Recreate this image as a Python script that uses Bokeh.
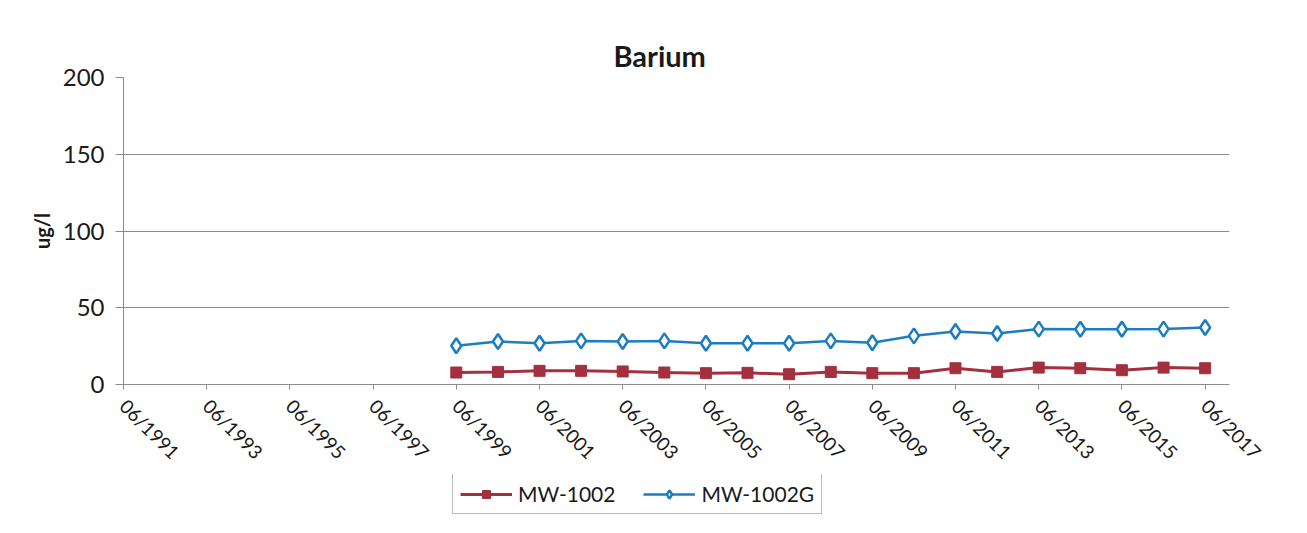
import math
from datetime import datetime
from bokeh.plotting import figure
from bokeh.layouts import column
from bokeh.models import (Range1d, FixedTicker, DatetimeTickFormatter, Legend, LegendItem)
from bokeh.embed import file_html
from bokeh.resources import INLINE

# ---- data ----
years = list(range(1999, 2018))
mw1002 = [7.8, 8.2, 8.9, 8.9, 8.5, 7.8, 7.4, 7.6, 6.7, 8.2, 7.4, 7.4, 10.6, 8.2, 11.0, 10.6, 9.3, 11.0, 10.6]
mw1002g = [25.2, 28.0, 26.9, 28.4, 28.0, 28.4, 26.9, 26.9, 26.9, 28.4, 27.2, 31.7, 34.5, 33.2, 36.1, 36.0, 36.0, 36.1, 37.1]
tick_years = list(range(1991, 2018, 2))
y_ticks = [0, 50, 100, 150, 200]
series_names = ["MW-1002", "MW-1002G"]

xs = [datetime(y, 6, 1) for y in years]
tick_ms = [datetime(y, 6, 1).timestamp() * 1000 for y in tick_years]

FONT = "Lato"
RED = "#A3303F"
BLUE = "#1C7DC0"
GRID = "#8c8c8c"
TXT = "#1a1a1a"

p = figure(frame_width=1106, frame_height=307, x_axis_type="datetime",
           output_backend="svg", toolbar_location=None,
           x_range=Range1d(datetime(1991, 6, 1), datetime(2018, 1, 1)),
           y_range=Range1d(0, 200))
p.min_border_left = 123
p.min_border_right = 61
p.min_border_top = 77
p.min_border_bottom = 0
p.outline_line_color = None
p.background_fill_color = "white"
p.border_fill_color = "white"

# title
p.title.text = "Barium"
p.title.align = "left"
p.title.offset = 490
p.title.text_font = FONT
p.title.text_font_style = "bold"
p.title.text_font_size = "29px"
p.title.text_color = TXT

# axes
p.xaxis.ticker = FixedTicker(ticks=tick_ms)
p.xaxis.formatter = DatetimeTickFormatter(days="%m/%Y", months="%m/%Y", years="%m/%Y")
p.xaxis.major_label_orientation = -math.pi / 4
p.xaxis.minor_tick_line_color = None
p.xaxis.major_tick_in = 0
p.xaxis.major_tick_out = 5
p.xaxis.axis_line_color = GRID
p.xaxis.major_tick_line_color = GRID
p.xaxis.major_label_text_font = FONT
p.xaxis.major_label_text_font_size = "19px"
p.xaxis.major_label_text_color = TXT
p.xaxis.major_label_standoff = 13

p.yaxis.ticker = FixedTicker(ticks=y_ticks)
p.yaxis.minor_tick_line_color = None
p.yaxis.major_tick_in = 0
p.yaxis.major_tick_out = 8
p.yaxis.axis_line_color = GRID
p.yaxis.major_tick_line_color = GRID
p.yaxis.major_label_text_font = FONT
p.yaxis.major_label_text_font_size = "24px"
p.yaxis.major_label_text_color = TXT
p.yaxis.major_label_standoff = 11
p.yaxis.axis_label = "ug/l"
p.yaxis.axis_label_text_font = FONT
p.yaxis.axis_label_text_font_style = "bold"
p.yaxis.axis_label_text_font_size = "20px"
p.yaxis.axis_label_text_color = TXT
p.yaxis.axis_label_standoff = 6

p.xgrid.grid_line_color = None
p.ygrid.grid_line_color = GRID
p.ygrid.grid_line_width = 1

# series
p.line(xs, mw1002, line_color=RED, line_width=3)
p.scatter(xs, mw1002, marker="square", size=11, fill_color=RED, line_color=RED)
p.line(xs, mw1002g, line_color=BLUE, line_width=2.5)
p.scatter(xs, mw1002g, marker="diamond", size=15, fill_color="white", line_color=BLUE, line_width=2.5)

# legend strip below the chart (its frame is aligned with the chart's frame)
lg = figure(frame_width=1106, height=41, output_backend="svg", toolbar_location=None,
            x_range=Range1d(0, 1), y_range=Range1d(0, 1),
            x_axis_location=None, y_axis_location=None, min_border=0)
lg.min_border_left = 123
lg.min_border_right = 61
lg.outline_line_color = None
lg.grid.grid_line_color = None
lg.border_fill_color = "white"
ll1 = lg.line(x=[5, 6], y=[5, 6], line_color=RED, line_width=3)
ls1 = lg.scatter(x=[5], y=[5], marker="square", size=11, fill_color=RED, line_color=RED)
ll2 = lg.line(x=[5, 6], y=[5, 6], line_color=BLUE, line_width=2.5)
ls2 = lg.scatter(x=[5], y=[5], marker="diamond", size=13, fill_color="white", line_color=BLUE, line_width=2.5)

legend = Legend(items=[LegendItem(label=series_names[0], renderers=[ll1, ls1]),
                       LegendItem(label=series_names[1], renderers=[ll2, ls2])],
                location=(329, 1), orientation="horizontal")
legend.label_text_font = FONT
legend.label_text_font_size = "21px"
legend.label_text_color = TXT
legend.glyph_width = 52
legend.glyph_height = 20
legend.label_standoff = 6
legend.spacing = 28
legend.padding = 7
legend.margin = 0
legend.border_line_color = "#777777"
legend.border_line_width = 1
legend.background_fill_alpha = 1
lg.add_layout(legend, "center")

layout = column(p, lg, spacing=0)
open("out.html", "w").write(file_html(layout, INLINE))
